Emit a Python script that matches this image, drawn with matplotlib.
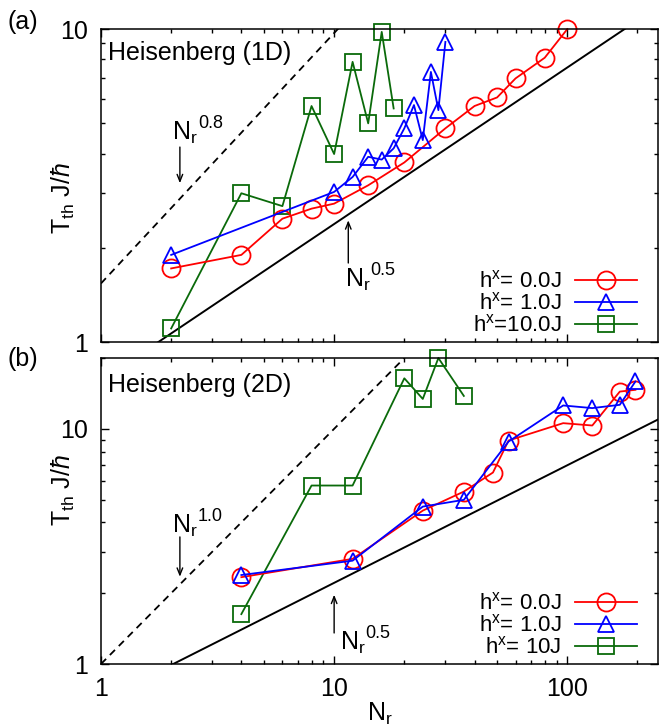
import numpy as np
import matplotlib as mpl
import matplotlib.pyplot as plt

mpl.use('Agg')

plt.rcParams['font.family'] = ['Liberation Sans', 'DejaVu Sans']
plt.rcParams['mathtext.fontset'] = 'custom'
plt.rcParams['mathtext.rm'] = 'Liberation Sans'
plt.rcParams['mathtext.it'] = 'Liberation Sans:italic'
plt.rcParams['mathtext.bf'] = 'Liberation Sans:bold'

# (a) Heisenberg 1D
nr_1d_h0 = [2, 4, 6, 8, 10, 14, 20, 30, 40, 50, 60, 80, 100]
tth_1d_h0 = [1.72, 1.90, 2.48, 2.67, 2.77, 3.17, 3.75, 4.82, 5.68, 6.05, 6.96, 8.1, 10.0]
nr_1d_h1 = [2, 10, 12, 14, 16, 18, 20, 22, 24, 26, 28, 30]
tth_1d_h1 = [1.90, 3.02, 3.37, 3.91, 3.83, 4.16, 4.82, 5.72, 4.42, 7.3, 5.51, 9.1]
nr_1d_h10 = [2, 4, 6, 8, 10, 12, 14, 16, 18]
tth_1d_h10 = [1.106, 2.99, 2.72, 5.68, 3.99, 7.86, 5.0, 9.8, 5.58]

# (b) Heisenberg 2D
nr_2d_h0 = [4, 12, 24, 36, 48, 56, 96, 128, 168, 196]
tth_2d_h0 = [2.34, 2.80, 4.49, 5.41, 6.52, 8.92, 10.57, 10.33, 14.4, 14.65]
nr_2d_h1 = [4, 12, 24, 36, 56, 96, 128, 168, 196]
tth_2d_h1 = [2.39, 2.75, 4.67, 4.99, 8.83, 12.57, 12.25, 12.65, 15.9]
nr_2d_h10 = [4, 8, 12, 20, 24, 28, 36]
tth_2d_h10 = [1.63, 5.74, 5.74, 16.4, 13.4, 20.0, 13.8]

# power-law guides: (prefactor, exponent)
guide_1d_dash = (1.54, 0.8)
guide_1d_solid = (0.754, 0.5)
guide_2d_dash = (1.0, 1.0)
guide_2d_solid = (0.70, 0.5)

labels_1d = [r'h$^{\rm x}$= 0.0J', r'h$^{\rm x}$= 1.0J', r'h$^{\rm x}$=10.0J']
labels_2d = [r'h$^{\rm x}$= 0.0J', r'h$^{\rm x}$= 1.0J', r'h$^{\rm x}$= 10J']

RED = '#ff0000'
BLUE = '#0000ff'
GREEN = '#0a6a0a'
XMAX = 245
FS = 18


def draw_panel(ax, series, guides, labels, ylim, legend_anchor):
    ax.set_xscale('log')
    ax.set_yscale('log')
    ax.set_xlim(1, XMAX)
    ax.set_ylim(*ylim)

    xs = np.geomspace(1, XMAX, 200)
    (c1, p1), (c2, p2) = guides
    ax.plot(xs, c1 * xs ** p1, color='k', lw=1.3, ls=(0, (4, 3)))
    ax.plot(xs, c2 * xs ** p2, color='k', lw=1.4)

    styles = [dict(color=RED, marker='o', ms=13),
              dict(color=BLUE, marker='^', ms=12),
              dict(color=GREEN, marker='s', ms=12)]
    handles = []
    for (x, y), st in zip(series, styles):
        h, = ax.plot(x, y, lw=1.3, mfc='none', mew=1.3, clip_on=False, **st)
        handles.append(h)
    # draw order: green, red, blue
    handles[2].set_zorder(2.1)
    handles[0].set_zorder(2.2)
    handles[1].set_zorder(2.3)

    ax.legend(handles, labels, loc='lower right', bbox_to_anchor=legend_anchor,
              markerfirst=False, frameon=False, fontsize=16, handlelength=2.8,
              labelspacing=0.0, handletextpad=0.6, borderaxespad=0,
              borderpad=0)

    ax.tick_params(which='both', direction='in', top=True, right=True,
                   labelsize=FS, pad=9)
    ax.tick_params(which='major', length=6, width=1)
    ax.tick_params(which='minor', length=3, width=1)
    for sp in ax.spines.values():
        sp.set_linewidth(1.1)
    ax.xaxis.set_major_formatter(mpl.ticker.FuncFormatter(lambda v, p: '%g' % v))
    ax.yaxis.set_major_formatter(mpl.ticker.FuncFormatter(lambda v, p: '%g' % v))
    ax.xaxis.set_minor_formatter(mpl.ticker.NullFormatter())
    ax.yaxis.set_minor_formatter(mpl.ticker.NullFormatter())


def power_label(ax, x, y, exponent):
    # N_r with the exponent set after the subscript, gnuplot style
    ax.text(x, y, r'N$_{\rm r}$', fontsize=FS)
    ax.annotate(exponent, xy=(x, y), xytext=(18.5, 8.5),
                textcoords='offset points', fontsize=13)


def arrow(ax, x, y_from, y_to):
    ax.annotate('', xy=(x, y_to), xytext=(x, y_from),
                arrowprops=dict(arrowstyle='->,head_length=0.5,head_width=0.2',
                                lw=1.0, color='k', shrinkA=0, shrinkB=0))


fig = plt.figure(figsize=(6.6, 7.28), dpi=100)
ax1 = fig.add_axes([0.153, 0.530, 0.844, 0.430])
ax2 = fig.add_axes([0.153, 0.0879, 0.844, 0.4203])

draw_panel(ax1, [(nr_1d_h0, tth_1d_h0), (nr_1d_h1, tth_1d_h1), (nr_1d_h10, tth_1d_h10)],
           [guide_1d_dash, guide_1d_solid], labels_1d, (1, 10), (0.962, 0.018))
draw_panel(ax2, [(nr_2d_h0, tth_2d_h0), (nr_2d_h1, tth_2d_h1), (nr_2d_h10, tth_2d_h10)],
           [guide_2d_dash, guide_2d_solid], labels_2d, (1, 20), (0.962, 0.018))

ax1.text(0.0126, 0.901, 'Heisenberg (1D)', transform=ax1.transAxes, fontsize=FS)
ax2.text(0.0126, 0.889, 'Heisenberg (2D)', transform=ax2.transAxes, fontsize=FS)
ax1.tick_params(labelbottom=False)

# annotations
power_label(ax1, 2.02, 4.42, '0.8')
arrow(ax1, 2.18, 4.2, 3.22)
power_label(ax1, 11.1, 1.50, '0.5')
arrow(ax1, 11.5, 1.79, 2.45)
power_label(ax2, 2.02, 3.61, '1.0')
arrow(ax2, 2.18, 3.47, 2.35)
power_label(ax2, 10.6, 1.147, '0.5')
arrow(ax2, 10.0, 1.355, 1.97)

ylab = r'T$_{\rm th}$ J/$\hbar$'
ax1.set_ylabel(ylab, fontsize=FS)
ax2.set_ylabel(ylab, fontsize=FS)
ax1.yaxis.set_label_coords(-0.043, 0.46)
ax2.yaxis.set_label_coords(-0.043, 0.57)
ax2.set_xlabel(r'N$_{\rm r}$', fontsize=FS, labelpad=0)

fig.text(0.012, 0.986, '(a)', fontsize=FS, va='top')
fig.text(0.012, 1 - 347 / 728, '(b)', fontsize=FS, va='top')

fig.savefig('out.png', dpi=100)
plt.close(fig)
